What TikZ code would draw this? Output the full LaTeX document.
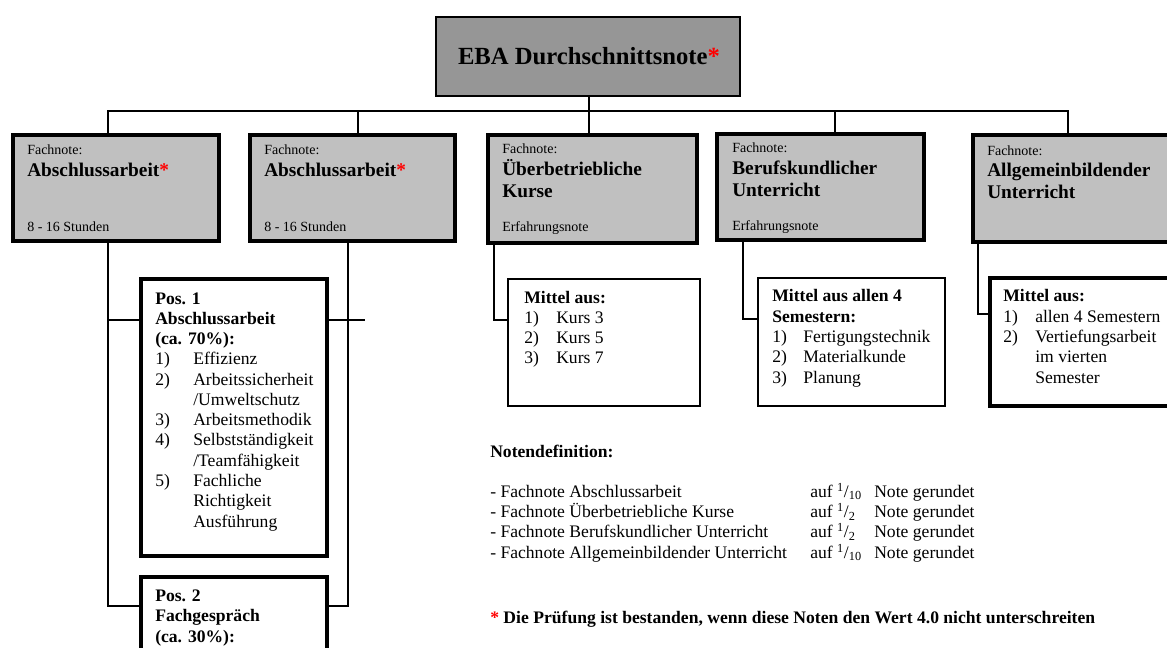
\documentclass[tikz,border=0pt]{standalone}
\usepackage{fontspec}
\setmainfont{Liberation Serif}
\usetikzlibrary{fit}

\definecolor{boxgrey}{RGB}{192,192,192}
\definecolor{topgrey}{RGB}{150,150,150}
\definecolor{starred}{RGB}{255,0,0}

\newlength{\numw}
\newcommand{\redstar}{\textcolor{starred}{*}}
\newcommand{\li}[2]{\makebox[\numw][l]{#1}#2}
\newcommand{\lc}[1]{\hspace*{\numw}#1}
\newcommand{\frc}[1]{\textsuperscript{1}/\textsubscript{#1}}

\begin{document}
\begin{tikzpicture}[x=0.75pt,y=-0.75pt,
  wire/.style={line width=1.5pt},
  topbox/.style={draw, line width=1.5pt, fill=topgrey, inner sep=0pt},
  fnbox/.style={draw, line width=3pt, fill=boxgrey, inner sep=0pt},
  posbox/.style={draw, line width=2.5pt, fill=white, inner sep=0pt},
  mitbox/.style={draw, line width=2pt, fill=white, inner sep=0pt},
  txt/.style={anchor=base west, inner sep=0pt, align=left, font=\fontsize{13.2}{15.2}\selectfont},
  small/.style={anchor=base west, inner sep=0pt, font=\fontsize{10.5}{12}\selectfont},
  fntitle/.style={anchor=base west, inner sep=0pt, align=left, font=\fontsize{14.5}{17.2}\selectfont\bfseries}]
\useasboundingbox (0,0) rectangle (1167,648);
\clip (0,0) rectangle (1167,648);

% boxes
\node[topbox, fit={(436,17) (740,96)}] (eba) {};
\node[fnbox, fit={(13,135) (219,241)}] (fn1) {};
\node[fnbox, fit={(250,135) (455,241)}] (fn2) {};
\node[fnbox, fit={(488,135) (697,243)}] (fn3) {};
\node[fnbox, fit={(717,134) (924,240)}] (fn4) {};
\node[fnbox, fit={(973,135) (1190,242)}] (fn5) {};
\node[posbox, fit={(141,279) (327,556)}] (pos1) {};
\node[posbox, fit={(141,577) (327,700)}] (pos2) {};
\node[mitbox, fit={(508,279) (700,406)}] (mit3) {};
\node[mitbox, fit={(758,278) (945,406)}] (mit4) {};
\node[posbox, fit={(990,278) (1195,406)}] (mit5) {};

% connectors
\coordinate (bus) at (589,111);
\draw[wire] (108,0 |- fn1.north) |- (bus) -| (1068,0 |- fn5.north);
\draw[wire] (358,0 |- fn2.north) -- (358,0 |- bus);
\draw[wire] (835,0 |- fn4.north) -- (835,0 |- bus);
\draw[wire] (bus |- eba.south) -- (bus |- fn3.north);
\draw[wire] (108,0 |- fn1.south) |- (pos2.west |- 0,606);
\draw[wire] (108,320) -- (pos1.west |- 0,320);
\draw[wire] (348,0 |- fn2.south) |- (pos2.east |- 0,606);
\draw[wire] (pos1.east |- 0,320) -- (365,320);
\draw[wire] (494,0 |- fn3.south) |- (mit3.west |- 0,320);
\draw[wire] (743,0 |- fn4.south) |- (mit4.west |- 0,319);
\draw[wire] (978,0 |- fn5.south) |- (mit5.west |- 0,314);

\node[anchor=base, inner sep=0pt, font=\fontsize{18.5}{22}\selectfont\bfseries] (ebat) at (589,65) {EBA Durchschnittsnote\redstar};

% Fachnote texts (multi-line nodes sit on their last baseline)
\node[small] (fn1a) at (27,155) {Fachnote:};
\node[fntitle] (fn1b) at (27,177) {Abschlussarbeit\redstar};
\node[small] (fn1c) at (27,232) {8 - 16 Stunden};
\node[small] (fn2a) at (264,155) {Fachnote:};
\node[fntitle] (fn2b) at (264,177) {Abschlussarbeit\redstar};
\node[small] (fn2c) at (264,232) {8 - 16 Stunden};
\node[small] (fn3a) at (502,154) {Fachnote:};
\node[fntitle] (fn3b) at (502,198) {Überbetriebliche\\Kurse};
\node[small] (fn3c) at (502,232) {Erfahrungsnote};
\node[small] (fn4a) at (732,153) {Fachnote:};
\node[fntitle] (fn4b) at (732,197) {Berufskundlicher\\Unterricht};
\node[small] (fn4c) at (732,231) {Erfahrungsnote};
\node[small] (fn5a) at (987,156) {Fachnote:};
\node[fntitle] (fn5b) at (987,199) {Allgemeinbildender\\Unterricht};

% Positionen und Mittel
\setlength{\numw}{28.5pt}
\node[txt] (pos1t) at (155,527) {\textbf{Pos. 1}\\ \textbf{Abschlussarbeit}\\ \textbf{(ca. 70\%):}\\
  \li{1)}{Effizienz}\\ \li{2)}{Arbeitssicherheit}\\ \lc{/Umweltschutz}\\ \li{3)}{Arbeitsmethodik}\\
  \li{4)}{Selbstständigkeit}\\ \lc{/Teamfähigkeit}\\ \li{5)}{Fachliche}\\ \lc{Richtigkeit}\\ \lc{Ausführung}};
\node[txt] (pos2t) at (155,642) {\textbf{Pos. 2}\\ \textbf{Fachgespräch}\\ \textbf{(ca. 30\%):}};
\setlength{\numw}{24pt}
\node[txt] (mit3t) at (524,364) {\textbf{Mittel aus:}\\ \li{1)}{Kurs 3}\\ \li{2)}{Kurs 5}\\ \li{3)}{Kurs 7}};
\setlength{\numw}{23.3pt}
\node[txt] (mit4t) at (772,383) {\textbf{Mittel aus allen 4}\\ \textbf{Semestern:}\\ \li{1)}{Fertigungstechnik}\\
  \li{2)}{Materialkunde}\\ \li{3)}{Planung}};
\setlength{\numw}{24pt}
\node[txt] (mit5t) at (1003,383) {\textbf{Mittel aus:}\\ \li{1)}{allen 4 Semestern}\\ \li{2)}{Vertiefungsarbeit}\\
  \lc{im vierten}\\ \lc{Semester}};

% Notendefinition
\node[txt] (ndhead) at (490,457) {\textbf{Notendefinition:}};
\node[txt] (ndlist) at (490,558) {%
  \makebox[240pt][l]{- Fachnote Abschlussarbeit}\makebox[48pt][l]{auf \frc{10}}Note gerundet\\
  \makebox[240pt][l]{- Fachnote Überbetriebliche Kurse}\makebox[48pt][l]{auf \frc{2}}Note gerundet\\
  \makebox[240pt][l]{- Fachnote Berufskundlicher Unterricht}\makebox[48pt][l]{auf \frc{2}}Note gerundet\\
  \makebox[240pt][l]{- Fachnote Allgemeinbildender Unterricht}\makebox[48pt][l]{auf \frc{10}}Note gerundet};
\node[txt] (foot) at (490,623) {\textbf{\redstar{} Die Prüfung ist bestanden, wenn diese Noten den Wert 4.0 nicht unterschreiten}};
\end{tikzpicture}
\end{document}
